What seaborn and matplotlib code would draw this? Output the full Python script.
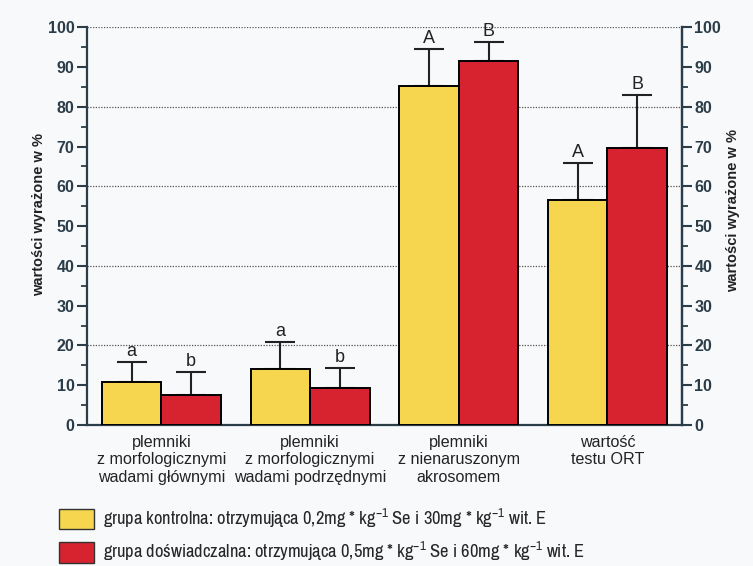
import matplotlib
matplotlib.use("Agg")
import matplotlib.pyplot as plt
from matplotlib import font_manager
import seaborn as sns
import pandas as pd
from matplotlib.patches import Patch
from matplotlib.ticker import MultipleLocator

categories = [
    "plemniki\nz morfologicznymi\nwadami głównymi",
    "plemniki\nz morfologicznymi\nwadami podrzędnymi",
    "plemniki\nz nienaruszonym\nakrosomem",
    "wartość\ntestu ORT",
]
groups = [
    "grupa kontrolna: otrzymująca 0,2mg * kg$^{-1}$ Se i 30mg * kg$^{-1}$ wit. E",
    "grupa doświadczalna: otrzymująca 0,5mg * kg$^{-1}$ Se i 60mg * kg$^{-1}$ wit. E",
]
control_mean = [10.8, 14.1, 85.2, 56.5]
control_sd = [5.0, 6.8, 9.3, 9.3]
treated_mean = [7.5, 9.3, 91.5, 69.6]
treated_sd = [5.8, 5.0, 4.7, 13.3]
control_letters = ["a", "a", "A", "A"]
treated_letters = ["b", "b", "B", "B"]
colors = ["#f6d64e", "#d7232f"]
axis_color = "#2b3d49"

sns.set_theme(style="white")
plt.rcParams["font.family"] = ["Liberation Sans", "DejaVu Sans"]
plt.rcParams["mathtext.default"] = "regular"


def _is_regular(f):
    w = f.weight
    if isinstance(w, str):
        w = {"normal": 400, "regular": 400, "book": 400}.get(w.lower(), 0)
    return f.style == "normal" and w == 400


# upright narrow face for the legend text, if one is installed
narrow = None
for key in ("Narrow", "Condensed"):
    for f in font_manager.fontManager.ttflist:
        if key in f.name and _is_regular(f):
            narrow = f
            break
    if narrow is not None:
        break
legend_family = narrow.name if narrow is not None else "Liberation Sans"

df = pd.DataFrame({
    "kategoria": categories * 2,
    "grupa": [groups[0]] * 4 + [groups[1]] * 4,
    "wartosc": control_mean + treated_mean,
})

bg = "#f8f9fb"
fig = plt.figure(figsize=(7.53, 5.66), dpi=100, facecolor=bg)
ax = fig.add_axes([0.1155, 0.249, 0.79, 0.703])
ax.set_facecolor(bg)

sns.barplot(data=df, x="kategoria", y="wartosc", hue="grupa", order=categories,
            hue_order=groups, palette=colors, width=0.8, edgecolor="black",
            linewidth=1.4, saturation=1, errorbar=None, ax=ax, legend=False,
            zorder=3)

sds = [control_sd, treated_sd]
letters = [control_letters, treated_letters]
bar_containers = list(ax.containers)
for ci, cont in enumerate(bar_containers):
    for bi, bar in enumerate(cont.patches):
        xc = bar.get_x() + bar.get_width() / 2
        h = bar.get_height()
        ax.errorbar(xc, h, yerr=[[0], [sds[ci][bi]]], fmt="none", ecolor="#222222",
                    elinewidth=1.5, capsize=10.8, capthick=1.5, zorder=2)
        ax.text(xc, h + sds[ci][bi] + 0.5, letters[ci][bi], ha="center", va="bottom",
                fontsize=13, color="#222222")

ax.set_xlim(-0.5, 3.5)
ax.set_ylim(0, 100)
ax.yaxis.set_major_locator(MultipleLocator(10))
ax.yaxis.set_minor_locator(MultipleLocator(5))
for y in [20, 40, 60, 80, 100]:
    ax.axhline(y, color="#555555", lw=0.9, ls=(0, (1, 1.2)), zorder=1)

ax.spines["top"].set_visible(False)
for s in ["left", "right", "bottom"]:
    ax.spines[s].set_color(axis_color)
    ax.spines[s].set_linewidth(1.6)

ax.tick_params(axis="y", which="major", direction="out", length=7, width=1.5,
               color=axis_color, labelcolor=axis_color, labelsize=11.5, pad=2)
ax.tick_params(axis="y", which="minor", direction="out", length=4, width=1.3,
               color=axis_color, left=True)
ax.tick_params(axis="x", length=0, labelsize=11.6, pad=7, labelcolor="#222222")
for lab in ax.get_yticklabels():
    lab.set_fontweight("bold")
ax.set_xlabel("")
ax.set_ylabel("wartości wyrażone w %", fontsize=10.5, fontweight="bold",
              color="#222222")
ax.yaxis.set_label_coords(-0.068, 0.53)

ax2 = ax.twinx()
ax2.set_ylim(0, 100)
ax2.yaxis.set_major_locator(MultipleLocator(10))
ax2.yaxis.set_minor_locator(MultipleLocator(5))
for s in ["top", "left", "bottom"]:
    ax2.spines[s].set_visible(False)
ax2.spines["right"].set_color(axis_color)
ax2.spines["right"].set_linewidth(1.6)
ax2.tick_params(axis="y", which="major", direction="out", length=7, width=1.5,
                color=axis_color, labelcolor=axis_color, labelsize=11.5, pad=2)
ax2.tick_params(axis="y", which="minor", direction="out", length=4, width=1.3,
                color=axis_color, right=True)
for lab in ax2.get_yticklabels():
    lab.set_fontweight("bold")
ax2.set_ylabel("wartości wyrażone w %", fontsize=10.5, fontweight="bold",
               color="#222222", rotation=90)
ax2.yaxis.set_label_coords(1.074, 0.54)

handles = [Patch(facecolor=c, edgecolor="#333333", linewidth=1.0) for c in colors]


def add_legend(size):
    prop = font_manager.FontProperties(family=[legend_family, "Liberation Sans"],
                                       size=size)
    # handle 35x25 px, rows 35 px apart, text 9 px right of the swatch
    return fig.legend(handles, groups, loc="upper left",
                      bbox_to_anchor=(0.078, 0.104), frameon=False, prop=prop,
                      handlelength=25.2 / size, handleheight=18.0 / size,
                      handletextpad=6.5 / size, labelspacing=7.2 / size,
                      borderpad=0, borderaxespad=0)


# size the legend text so the first entry spans about 445 px
leg = add_legend(11.0)
renderer = fig.canvas.get_renderer()
w = leg.get_texts()[0].get_window_extent(renderer).width
size = min(14.0, max(8.0, 11.0 * 445.0 / w))
leg.remove()
add_legend(size)

fig.savefig("out.png", dpi=100, facecolor=bg)
